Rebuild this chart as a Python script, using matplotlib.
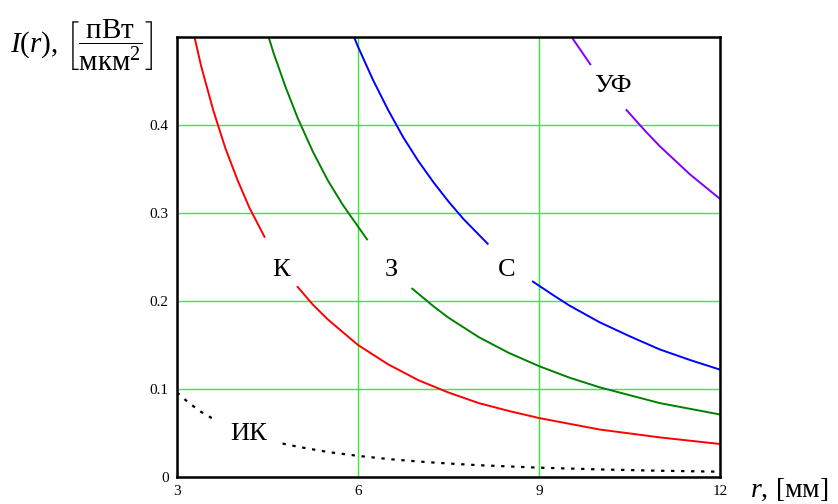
import matplotlib.pyplot as plt

plt.rcParams['font.family'] = ['Liberation Serif', 'DejaVu Serif']
plt.rcParams['mathtext.fontset'] = 'custom'
plt.rcParams['mathtext.rm'] = 'Liberation Serif'
plt.rcParams['mathtext.it'] = 'Liberation Serif:italic'

# red (К)
r_k1 = [3.2, 3.4, 3.6, 3.8, 4.0, 4.2, 4.45]
i_k1 = [0.527, 0.467, 0.417, 0.374, 0.338, 0.306, 0.273]
r_k2 = [5.0, 5.25, 5.5, 6.0, 6.5, 7.0, 7.5, 8.0, 8.5, 9.0, 10.0, 11.0, 12.0]
i_k2 = [0.216, 0.196, 0.179, 0.150, 0.128, 0.110, 0.096, 0.084, 0.075, 0.067, 0.054, 0.045, 0.0375]

# green (З)
r_z1 = [4.45, 4.6, 4.8, 5.0, 5.25, 5.5, 5.75, 6.15]
i_z1 = [0.515, 0.482, 0.443, 0.408, 0.370, 0.337, 0.309, 0.270]
r_z2 = [6.9, 7.25, 7.5, 8.0, 8.5, 9.0, 9.5, 10.0, 11.0, 12.0]
i_z2 = [0.214, 0.194, 0.181, 0.159, 0.141, 0.126, 0.113, 0.102, 0.084, 0.071]

# blue (С)
r_s1 = [5.85, 6.0, 6.25, 6.5, 6.75, 7.0, 7.25, 7.5, 7.75, 8.15]
i_s1 = [0.514, 0.489, 0.451, 0.417, 0.386, 0.359, 0.335, 0.313, 0.293, 0.265]
r_s2 = [8.9, 9.25, 9.5, 10.0, 10.5, 11.0, 11.5, 12.0]
i_s2 = [0.222, 0.206, 0.195, 0.176, 0.160, 0.145, 0.133, 0.122]

# violet (УФ)
r_u1 = [9.5, 9.65, 9.85]
i_u1 = [0.504, 0.489, 0.469]
r_u2 = [10.45, 10.75, 11.0, 11.25, 11.5, 11.75, 12.0]
i_u2 = [0.417, 0.394, 0.376, 0.360, 0.344, 0.330, 0.316]

# black dotted (ИК)
r_ik1 = [3.0, 3.2, 3.4, 3.6]
i_ik1 = [0.096, 0.084, 0.074, 0.066]
r_ik2 = [4.75, 5.0, 5.5, 6.0, 6.5, 7.0, 7.5, 8.0, 9.0, 10.0, 11.0, 12.0]
i_ik2 = [0.038, 0.0344, 0.0284, 0.024, 0.0204, 0.0176, 0.0153, 0.0134, 0.0106, 0.0086, 0.0071, 0.006]

labels = ['К', 'З', 'С', 'УФ', 'ИК']
label_r = [4.72, 6.56, 8.47, 10.23, 4.18]
label_i = [0.235, 0.235, 0.235, 0.444, 0.049]

x_ticks = [3, 6, 9, 12]
y_ticks = [0, 0.1, 0.2, 0.3, 0.4]

fig = plt.figure(figsize=(8.38, 5.04), dpi=100)
ax = fig.add_axes([0.2112, 0.0536, 0.648, 0.873])

ax.set_xticks(x_ticks)
ax.set_yticks(y_ticks)
ax.set_yticklabels(['0', '0.1', '0.2', '0.3', '0.4'])
ax.grid(True, color='#33ee33', lw=1.0)
ax.set_axisbelow(True)

lw = 1.4
ax.plot(r_k1, i_k1, color='#ff0000', lw=lw)
ax.plot(r_k2, i_k2, color='#ff0000', lw=lw)
ax.plot(r_z1, i_z1, color='#008000', lw=lw)
ax.plot(r_z2, i_z2, color='#008000', lw=lw)
ax.plot(r_s1, i_s1, color='#0000ff', lw=lw)
ax.plot(r_s2, i_s2, color='#0000ff', lw=lw)
ax.plot(r_u1, i_u1, color='#8000ff', lw=lw)
ax.plot(r_u2, i_u2, color='#8000ff', lw=lw)
ax.plot(r_ik1, i_ik1, color='black', lw=1.6, ls=(0, (1.5, 3)))
ax.plot(r_ik2, i_ik2, color='black', lw=1.6, ls=(0, (1.5, 3)))

for t, x, y in zip(labels, label_r, label_i):
    ax.text(x, y, t, fontsize=19, ha='center', va='center')

ax.set_xlim(3, 12)
ax.set_ylim(0, 0.5)
ax.tick_params(length=0, labelsize=11, pad=6)
for s in ax.spines.values():
    s.set_linewidth(1.8)
    s.set_color('black')

fig.text(0.012, 0.91, r'$I(r),\,\left[\dfrac{\mathrm{пВт}}{\mathrm{мкм}^2}\right]$', fontsize=21, ha='left', va='center')
fig.text(0.895, 0.028, r'$r,\,[\mathrm{мм}]$', fontsize=20, ha='left', va='center')

fig.savefig('out.png', dpi=100)
